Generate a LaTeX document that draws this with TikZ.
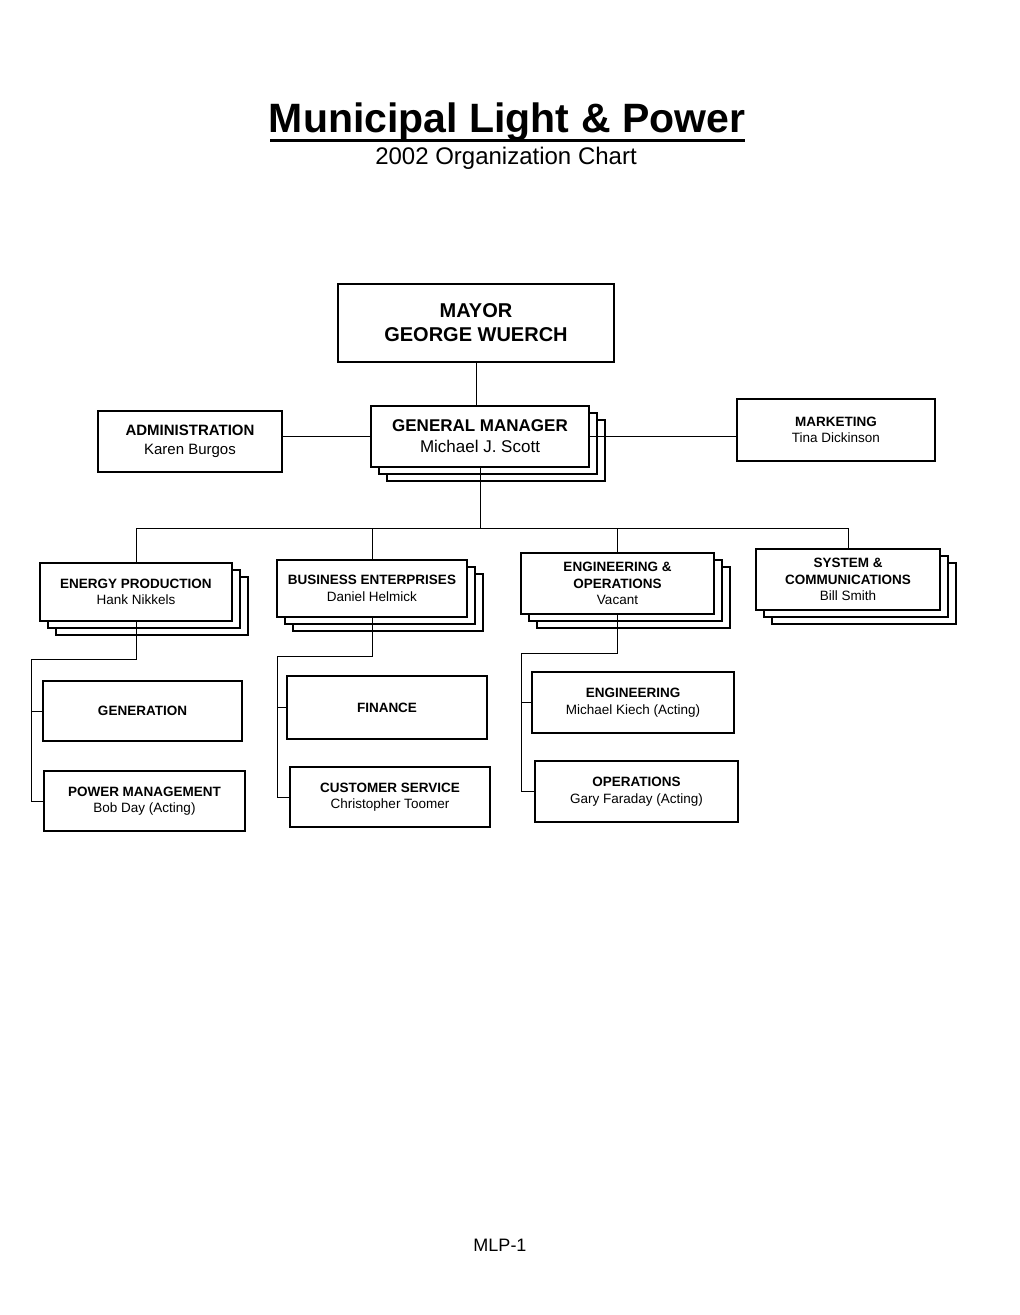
\documentclass[tikz,border=0pt]{standalone}
\usepackage{fontspec}
\setmainfont{Liberation Sans}
\begin{document}
\begin{tikzpicture}[x=1pt,y=-1pt,
  box/.style={draw, fill=white, align=center, inner sep=0pt, line width=1.1pt},
  shad/.style={draw, fill=white, line width=1.1pt},
  conn/.style={line width=1pt},
  fA/.style={font=\fontsize{20}{24}\selectfont},
  fB/.style={font=\fontsize{17}{21}\selectfont},
  fC/.style={font=\fontsize{15}{19}\selectfont},
  fD/.style={font=\fontsize{13.5}{16.5}\selectfont}]
\fill[white] (0,0) rectangle (1020,1315);
\useasboundingbox (0,0) rectangle (1020,1315);
\newcommand\stackednode[7]{%
  \draw[shad] ({#2-#4/2+16},{#3-#5/2+14}) rectangle ({#2+#4/2+16},{#3+#5/2+14});
  \draw[shad] ({#2-#4/2+8},{#3-#5/2+7}) rectangle ({#2+#4/2+8},{#3+#5/2+7});
  \node[box,#6,minimum width={#4pt},minimum height={#5pt}] (#1) at (#2,#3) {#7};}
\newcommand\plainnode[7]{%
  \node[box,#6,minimum width={#4pt},minimum height={#5pt}] (#1) at (#2,#3) {#7};}

% title
\node[anchor=base, font=\fontsize{41}{48}\selectfont\bfseries, inner sep=0pt] (title) at (507,132) {Municipal Light \& Power};
\draw[line width=3pt] (270,140) -- (745,140);
\node[anchor=base, font=\fontsize{24}{28}\selectfont, inner sep=0pt] (sub) at (506,164) {2002 Organization Chart};

% top level
\plainnode{mayor}{476}{323}{276}{78}{fA}{\textbf{MAYOR}\\\textbf{GEORGE WUERCH}}
\stackednode{gm}{480}{436.5}{218}{61}{fB}{\textbf{GENERAL MANAGER}\\Michael J. Scott}
\plainnode{adm}{190}{441.5}{184}{61}{fC}{\textbf{ADMINISTRATION}\\Karen Burgos}
\plainnode{mkt}{836}{430}{198}{62}{fD}{\textbf{MARKETING}\\Tina Dickinson}

% departments
\stackednode{ep}{136}{592}{192}{58}{fD}{\textbf{ENERGY PRODUCTION}\\Hank Nikkels}
\stackednode{be}{372}{588.5}{190}{57}{fD}{\textbf{BUSINESS ENTERPRISES}\\Daniel Helmick}
\stackednode{eo}{617.5}{583.5}{193}{61}{fD}{\textbf{ENGINEERING \&}\\\textbf{OPERATIONS}\\Vacant}
\stackednode{sc}{848}{579.5}{184}{61}{fD}{\textbf{SYSTEM \&}\\\textbf{COMMUNICATIONS}\\Bill Smith}

% sub units
\plainnode{gen}{142.5}{711}{199}{60}{fD}{\textbf{GENERATION}}
\plainnode{pm}{144.5}{801}{201}{60}{fD}{\textbf{POWER MANAGEMENT}\\Bob Day (Acting)}
\plainnode{fin}{387}{707.5}{200}{63}{fD}{\textbf{FINANCE}}
\plainnode{cs}{390}{797}{200}{60}{fD}{\textbf{CUSTOMER SERVICE}\\Christopher Toomer}
\plainnode{eng}{633}{702.5}{202}{61}{fD}{\textbf{ENGINEERING}\\Michael Kiech (Acting)}
\plainnode{ops}{636.5}{791.5}{203}{61}{fD}{\textbf{OPERATIONS}\\Gary Faraday (Acting)}

% connectors
\coordinate (busy) at (0,528);
\draw[conn] (mayor.south) -- (mayor.south |- gm.north);
\draw[conn] (gm.west) -- (gm.west -| adm.east);
\draw[conn] (gm.east) -- (gm.east -| mkt.west);
\draw[conn] (gm.south) -- (gm.south |- busy);
\draw[conn] (ep.north) |- (sc.north |- busy) -- (sc.north);
\draw[conn] (be.north) -- (be.north |- busy);
\draw[conn] (eo.north) -- (eo.north |- busy);

\coordinate (ept) at (31,659);
\draw[conn] (ep.south) |- (ept) |- (pm.west);
\draw[conn] (gen.west) -- (gen.west -| ept);

\coordinate (bet) at (277,656);
\draw[conn] (be.south) |- (bet) |- (cs.west);
\draw[conn] (fin.west) -- (fin.west -| bet);

\coordinate (eot) at (521,653);
\draw[conn] (eo.south) |- (eot) |- (ops.west);
\draw[conn] (eng.west) -- (eng.west -| eot);

% footer
\node[font=\fontsize{18}{22}\selectfont, inner sep=0pt] (foot) at (500,1245) {MLP-1};
\end{tikzpicture}
\end{document}
